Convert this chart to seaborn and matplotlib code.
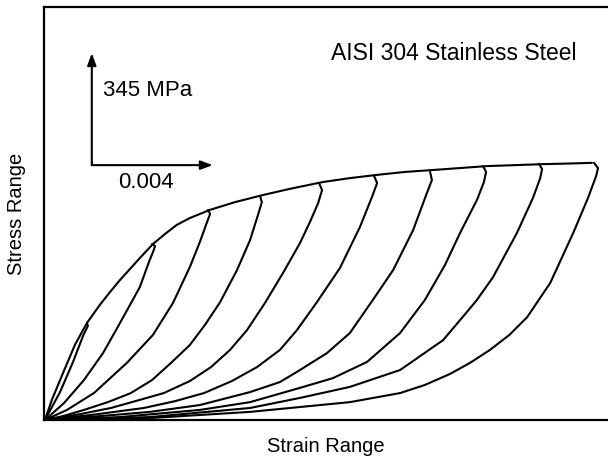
import matplotlib
matplotlib.use("Agg")
import matplotlib.pyplot as plt
import seaborn as sns
import pandas as pd

# Strain in units of 1e-3 (scale bar 0.004 = 4), stress range in MPa
env_strain = [0, 0.23, 0.60, 0.99, 1.39, 1.82, 2.15, 2.48, 2.81, 3.14, 3.57, 3.97, 4.36, 4.79,
              5.45, 6.28, 7.21, 8.10, 9.19, 10.08, 10.98, 11.90, 12.83, 13.72, 14.61, 15.54,
              16.46, 17.36, 18.08]
env_stress = [0, 62, 145, 231, 299, 355, 394, 431, 465, 499, 542, 573, 601, 622,
              647, 671, 693, 712, 733, 745, 755, 764, 770, 776, 782, 785,
              788, 790, 792]

loop1_strain = [0, 0.50, 0.93, 1.26, 1.42, 1.39]
loop1_stress = [0, 86, 179, 259, 290, 299]

loop2_strain = [0, 0.63, 1.29, 1.92, 2.35, 2.81, 3.14, 3.44, 3.60, 3.64, 3.54]
loop2_stress = [0, 52, 123, 206, 277, 354, 410, 487, 524, 536, 542]

loop3_strain = [0, 0.73, 1.62, 2.71, 3.57, 4.23, 4.79, 5.12, 5.36, 5.46, 5.39]
loop3_stress = [0, 31, 83, 176, 262, 360, 471, 548, 610, 635, 647]

loop4_strain = [0, 0.60, 1.29, 2.08, 2.84, 3.54, 4.17, 4.79, 5.29, 5.79, 6.35, 6.78, 7.04, 7.17, 7.11]
loop4_stress = [0, 12, 31, 55, 83, 123, 176, 231, 293, 363, 462, 554, 631, 671, 690]

loop5_strain = [0, 1.16, 2.18, 3.14, 3.93, 4.79, 5.49, 6.12, 6.68, 7.27, 7.87, 8.43, 8.76, 9.03, 9.16, 9.06]
loop5_stress = [0, 18, 37, 62, 83, 120, 163, 216, 277, 360, 453, 545, 610, 668, 708, 730]

loop6_strain = [0, 1.49, 3.27, 4.30, 5.26, 6.18, 7.01, 7.77, 8.33, 8.99, 9.75, 10.41, 10.81, 10.98, 10.88]
loop6_stress = [0, 15, 37, 58, 83, 120, 163, 216, 277, 363, 468, 594, 687, 730, 751]

loop7_strain = [0, 1.82, 3.47, 5.12, 6.78, 7.77, 8.43, 9.32, 10.08, 10.84, 11.51, 12.17, 12.60, 12.79, 12.73]
loop7_stress = [0, 12, 25, 46, 86, 117, 154, 206, 268, 370, 462, 585, 693, 739, 764]

loop8_strain = [0, 2.48, 5.12, 6.78, 8.43, 9.52, 10.65, 11.74, 12.56, 13.22, 13.72, 14.28, 14.51, 14.58, 14.48]
loop8_stress = [0, 9, 31, 55, 99, 129, 179, 268, 370, 477, 576, 678, 733, 764, 782]

loop9_strain = [0, 3.47, 6.78, 8.43, 10.08, 11.74, 13.16, 13.95, 14.28, 14.81, 15.60, 16.13, 16.37, 16.43, 16.33]
loop9_stress = [0, 9, 37, 68, 102, 154, 246, 333, 370, 440, 576, 684, 745, 773, 789]

loop10_strain = [0, 3.47, 6.78, 8.43, 10.08, 11.74, 12.56, 13.39, 14.05, 14.71, 15.35, 15.94, 16.70, 17.46, 17.95, 18.22, 18.28, 18.15]
loop10_stress = [0, 6, 25, 40, 55, 83, 108, 142, 176, 216, 262, 317, 422, 576, 684, 752, 776, 792]

scale_strain = 4.0      # 0.004
scale_stress = 345.0    # MPa
scale_origin = (1.55, 785)

title_text = "AISI 304 Stainless Steel"
x_label = "Strain Range"
y_label = "Stress Range"
stress_bar_label = "345 MPa"
strain_bar_label = "0.004"

curves = [("envelope", env_strain, env_stress),
          ("loop1", loop1_strain, loop1_stress),
          ("loop2", loop2_strain, loop2_stress),
          ("loop3", loop3_strain, loop3_stress),
          ("loop4", loop4_strain, loop4_stress),
          ("loop5", loop5_strain, loop5_stress),
          ("loop6", loop6_strain, loop6_stress),
          ("loop7", loop7_strain, loop7_stress),
          ("loop8", loop8_strain, loop8_stress),
          ("loop9", loop9_strain, loop9_stress),
          ("loop10", loop10_strain, loop10_stress)]

rows = []
for name, xs, ys in curves:
    for i, (x, y) in enumerate(zip(xs, ys)):
        rows.append({"curve": name, "order": i, "strain": x, "stress": y})
df = pd.DataFrame(rows)

sns.set_theme(style="white")
plt.rcParams["font.family"] = ["Liberation Sans", "DejaVu Sans"]
plt.rcParams["text.color"] = "black"
plt.rcParams["axes.labelcolor"] = "black"

fig = plt.figure(figsize=(6.08, 4.62), dpi=100)
ax = fig.add_axes([44 / 608, 1 - 420 / 462, 1 - 44 / 608, 413 / 462])

sns.lineplot(data=df, x="strain", y="stress", units="curve", estimator=None,
             sort=False, color="black", linewidth=1.5, ax=ax, legend=False)

ax.set_xlim(-0.03, 18.61)
ax.set_ylim(0, 1272)
ax.set_xticks([])
ax.set_yticks([])
for side in ["left", "top", "bottom"]:
    ax.spines[side].set_visible(True)
    ax.spines[side].set_color("black")
    ax.spines[side].set_linewidth(1.6)
ax.spines["right"].set_visible(False)

ax.set_xlabel(x_label, fontsize=14.5, va="center", color="black")
ax.set_ylabel(y_label, fontsize=14.5, va="center", color="black")
ax.xaxis.set_label_coords(0.5, -0.065)
ax.yaxis.set_label_coords(-0.048, 0.5)

x0, y0 = scale_origin
arrow_kw = dict(arrowstyle="-|>,head_length=0.6,head_width=0.22", color="black", lw=1.5,
                shrinkA=0, shrinkB=0)
ax.annotate("", xy=(x0, y0 + scale_stress), xytext=(x0, y0), arrowprops=arrow_kw)
ax.annotate("", xy=(x0 + scale_strain, y0), xytext=(x0, y0), arrowprops=arrow_kw)
ax.plot([x0, x0], [y0, y0 + 10], color="black", lw=1.5)

ax.text(1.92, 1016, stress_bar_label, fontsize=16, ha="left", va="center", color="black")
ax.text(2.41, 730, strain_bar_label, fontsize=16, ha="left", va="center", color="black")
ax.text(13.5, 1130, title_text, fontsize=16.5, ha="center", va="center", color="black")

fig.savefig("out.png", dpi=100)
